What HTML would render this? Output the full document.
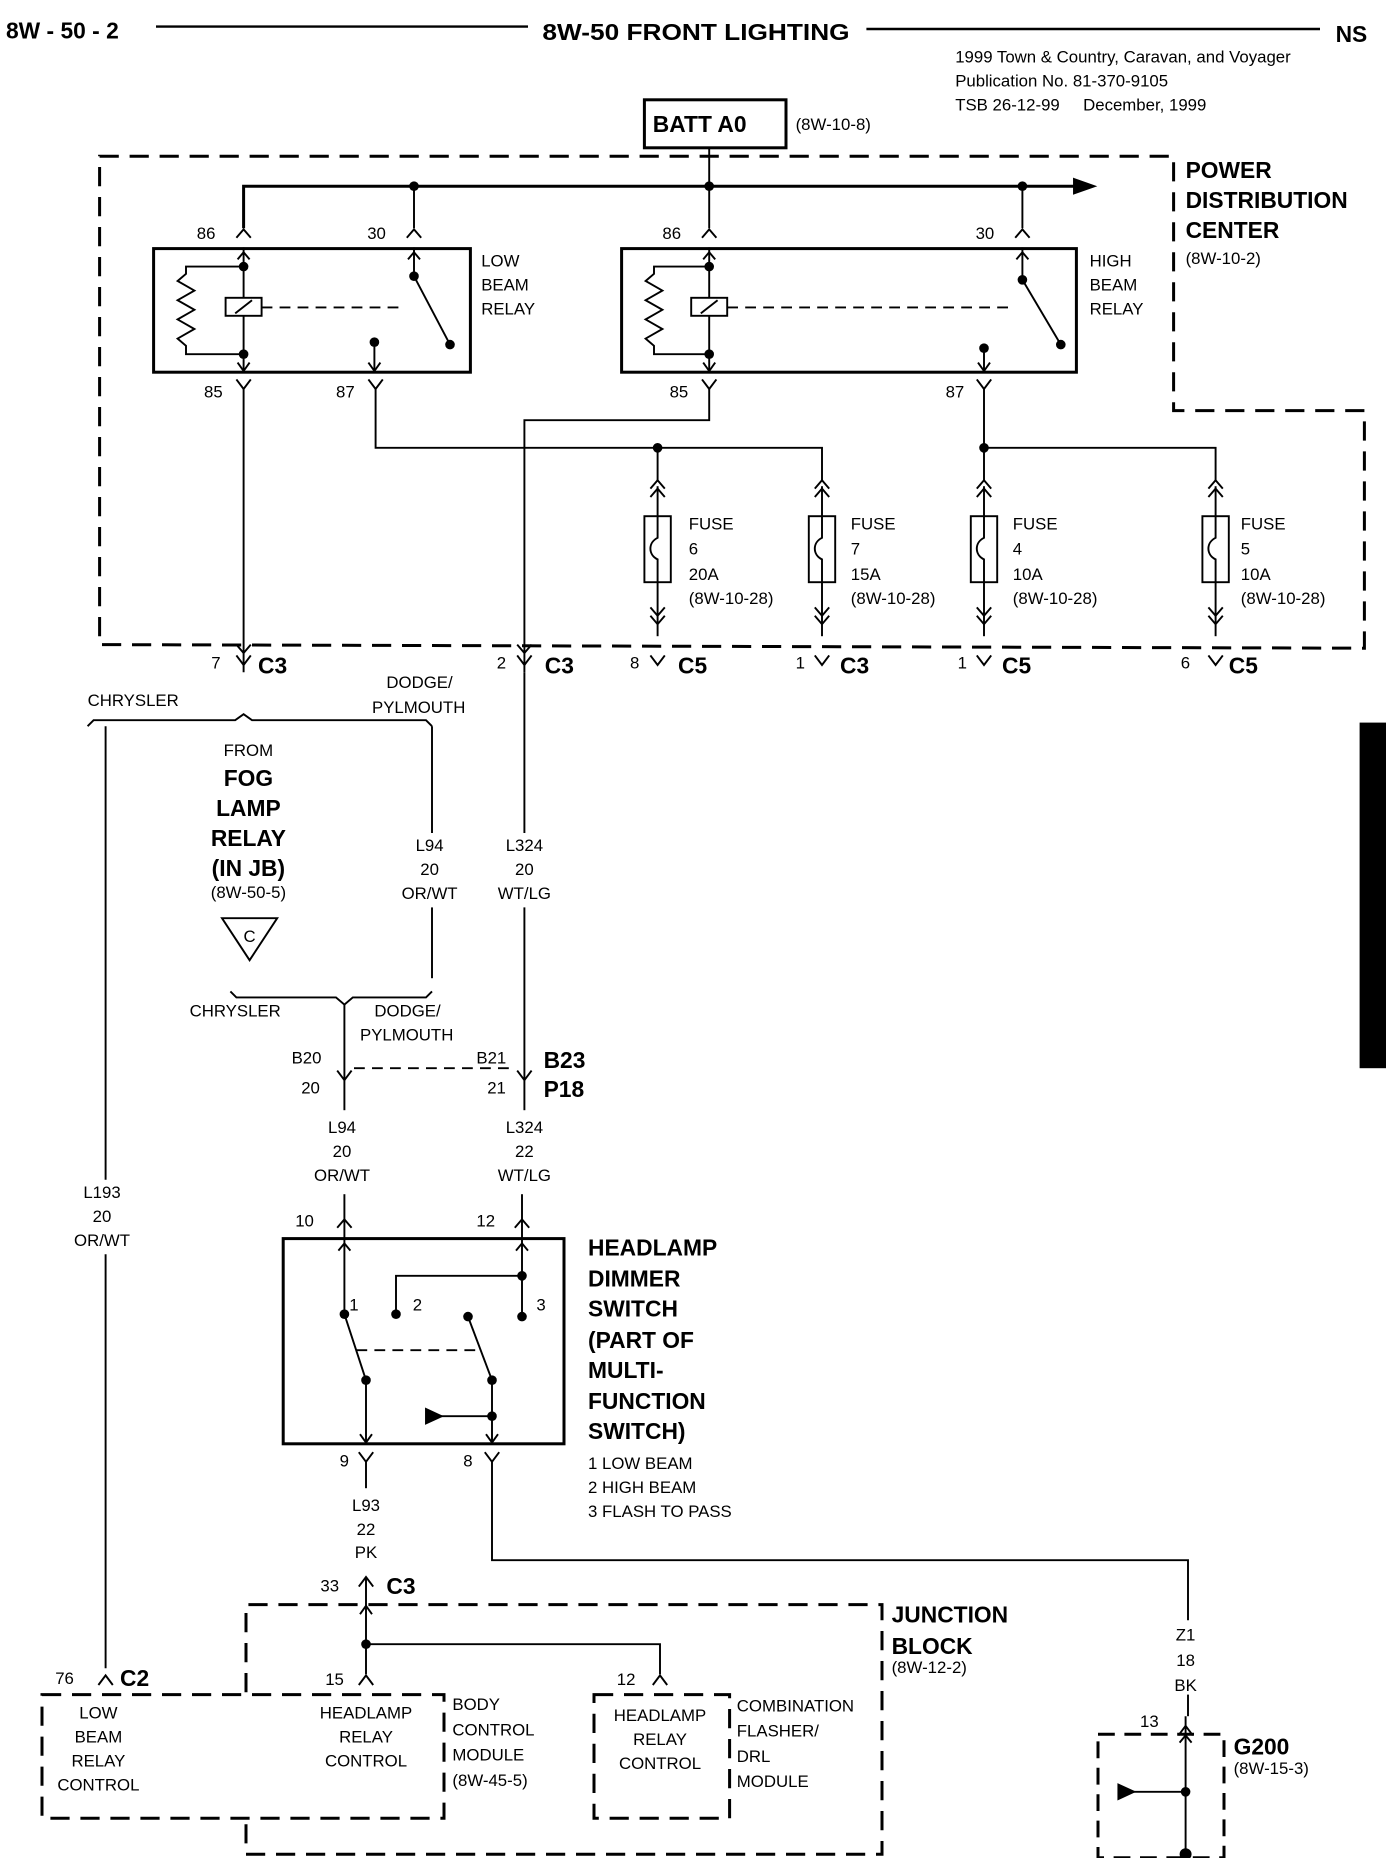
<!DOCTYPE html>
<html><head><meta charset="utf-8"><style>
html,body{margin:0;padding:0;background:#fff}
svg{display:block}
text{font-family:"Liberation Sans",sans-serif;fill:#000}
.s{font-size:14px}
.b{font-size:19px;font-weight:bold}
</style></head><body>
<svg width="1392" height="1858" viewBox="0 0 1160 1548" xmlns="http://www.w3.org/2000/svg">
<g stroke="#000" fill="none" stroke-width="1.6">
<line x1="130" y1="22" x2="440" y2="22" stroke-width="2"/>
<line x1="722" y1="24" x2="1100" y2="24" stroke-width="2"/>
<rect x="537" y="83" width="118" height="40" stroke-width="2.5"/>
<path d="M83 130 L978 130 L978 342 L1137 342 L1137 540 L83 537 Z" stroke-width="2.5" stroke-dasharray="16 9"/>
<line x1="591" y1="123" x2="591" y2="190"/>
<path d="M203 190 L203 155 L895 155" stroke-width="2.5"/>
<path d="M895 149 L912 155 L895 161 Z" fill="#000"/>
<line x1="345" y1="155" x2="345" y2="190"/>
<line x1="852" y1="155" x2="852" y2="190"/>
<rect x="128" y="207" width="264" height="103" stroke-width="2.5"/>
<rect x="518" y="207" width="379" height="103" stroke-width="2.5"/>
<path d="M197 198 L203 191 L209 198 M339 198 L345 191 L351 198 M585 198 L591 191 L597 198 M846 198 L852 191 L858 198"/>
<line x1="203" y1="206" x2="203" y2="310"/>
<path d="M198 216 L203 210 L208 216"/>
<path d="M203 222 L155 222 L155 228 L148 234 L162 242 L148 250 L162 258 L148 266 L162 274 L148 282 L155 288 L155 295 L203 295"/>
<rect x="188" y="248" width="30" height="15" fill="#fff"/>
<line x1="196" y1="261" x2="210" y2="250"/>
<line x1="218" y1="256" x2="336" y2="256" stroke-dasharray="9 6"/>
<line x1="345" y1="206" x2="345" y2="230"/>
<path d="M340 216 L345 210 L350 216"/>
<line x1="345" y1="230" x2="375" y2="287"/>
<line x1="312" y1="285" x2="312" y2="310"/>
<path d="M307 302 L312 309 L317 302"/>
<path d="M198 302 L203 309 L208 302"/>
<line x1="591" y1="206" x2="591" y2="310"/>
<path d="M586 216 L591 210 L596 216"/>
<path d="M591 222 L545 222 L545 228 L538 234 L552 242 L538 250 L552 258 L538 266 L552 274 L538 282 L545 288 L545 295 L591 295"/>
<rect x="576" y="248" width="30" height="15" fill="#fff"/>
<line x1="584" y1="261" x2="598" y2="250"/>
<line x1="606" y1="256" x2="845" y2="256" stroke-dasharray="9 6"/>
<line x1="852" y1="206" x2="852" y2="233"/>
<path d="M847 216 L852 210 L857 216"/>
<line x1="852" y1="233" x2="884" y2="287"/>
<line x1="820" y1="288" x2="820" y2="310"/>
<path d="M815 302 L820 309 L825 302"/>
<path d="M586 302 L591 309 L596 302"/>
<path d="M197 316 L203 324 L209 316 M307 316 L313 324 L319 316 M585 316 L591 324 L597 316 M814 316 L820 324 L826 316"/>
<line x1="203" y1="324" x2="203" y2="560"/>
<path d="M313 324 L313 373 L685 373 L685 400"/>
<path d="M591 324 L591 350 L437 350 L437 560"/>
<path d="M820 324 L820 373 L1013 373 L1013 400"/>
<line x1="820" y1="373" x2="820" y2="400"/>
<line x1="548" y1="373" x2="548" y2="400"/>
<g id="fuse">
<path d="M542 407 L548 400 L554 407 M542 414 L548 407 L554 414"/>
<line x1="548" y1="405" x2="548" y2="430"/>
<rect x="537" y="430" width="22" height="55"/>
<path d="M548 430 L548 448 C540 452 540 462 548 466 L548 485"/>
<line x1="548" y1="485" x2="548" y2="530"/>
<path d="M542 506 L548 513 L554 506 M542 513 L548 520 L554 513"/>
</g>
<use href="#fuse" x="137"/>
<use href="#fuse" x="272"/>
<use href="#fuse" x="465"/>
<path d="M197 537 L203 544 L209 537 M431 537 L437 544 L443 537"/>
<path d="M197 546 L203 554 L209 546 M431 546 L437 554 L443 546 M542 546 L548 554 L554 546 M679 546 L685 554 L691 546 M814 546 L820 554 L826 546 M1007 546 L1013 554 L1019 546"/>
<path d="M73 605 L78 600 L196 600 L203 595 L210 600 L355 600 L360 605"/>
<line x1="88" y1="605" x2="88" y2="983"/>
<line x1="88" y1="1045" x2="88" y2="1390"/>
<line x1="360" y1="605" x2="360" y2="694"/>
<line x1="360" y1="756" x2="360" y2="815"/>
<path d="M185 765 L231 765 L208 800 Z"/>
<path d="M192 826 L197 831 L280 831 L287 837 L294 831 L355 831 L360 826"/>
<line x1="287" y1="837" x2="287" y2="900"/>
<line x1="437" y1="560" x2="437" y2="694"/>
<line x1="437" y1="756" x2="437" y2="900"/>
<path d="M281 892 L287 900 L293 892 M431 892 L437 900 L443 892"/>
<line x1="295" y1="890" x2="430" y2="890" stroke-dasharray="9 6"/>
<line x1="287" y1="900" x2="287" y2="925"/>
<line x1="437" y1="900" x2="437" y2="925"/>
<line x1="287" y1="995" x2="287" y2="1032"/>
<line x1="435" y1="995" x2="435" y2="1032"/>
<path d="M281 1023 L287 1016 L293 1023 M429 1023 L435 1016 L441 1023"/>
<rect x="236" y="1032" width="234" height="171" stroke-width="2.5"/>
<line x1="287" y1="1032" x2="287" y2="1095"/>
<path d="M282 1042 L287 1036 L292 1042 M430 1042 L435 1036 L440 1042"/>
<line x1="435" y1="1032" x2="435" y2="1097"/>
<path d="M330 1095 L330 1063 L435 1063"/>
<line x1="287" y1="1095" x2="305" y2="1150"/>
<line x1="390" y1="1097" x2="410" y2="1150"/>
<line x1="297" y1="1125" x2="400" y2="1125" stroke-dasharray="9 6"/>
<line x1="305" y1="1150" x2="305" y2="1203"/>
<line x1="410" y1="1150" x2="410" y2="1203"/>
<path d="M300 1195 L305 1202 L310 1195 M405 1195 L410 1202 L415 1195"/>
<line x1="365" y1="1180" x2="410" y2="1180"/>
<path d="M355 1174 L368 1180 L355 1186 Z" fill="#000"/>
<path d="M299 1210 L305 1218 L311 1210 M404 1210 L410 1218 L416 1210"/>
<line x1="305" y1="1218" x2="305" y2="1240"/>
<path d="M410 1218 L410 1300 L990 1300 L990 1350"/>
<line x1="990" y1="1412" x2="990" y2="1430"/>
<line x1="305" y1="1315" x2="305" y2="1395"/>
<path d="M299 1322 L305 1314 L311 1322"/>
<path d="M205 1410 L205 1337 L735 1337 L735 1545 L205 1545 L205 1515" stroke-width="2.5" stroke-dasharray="16 9"/>
<path d="M305 1370 L550 1370 L550 1395"/>
<path d="M300 1345 L305 1338 L310 1345"/>
<path d="M299 1404 L305 1396 L311 1404 M544 1404 L550 1396 L556 1404 M82 1404 L88 1396 L94 1404"/>
<rect x="35" y="1412" width="335" height="103" stroke-width="2.5" stroke-dasharray="16 9"/>
<rect x="495" y="1412" width="113" height="103" stroke-width="2.5" stroke-dasharray="16 9"/>
<path d="M982 1446 L988 1438 L994 1446"/>
<line x1="988" y1="1430" x2="988" y2="1545"/>
<path d="M983 1452 L988 1446 L993 1452"/>
<rect x="915" y="1445" width="105" height="103" stroke-width="2.5" stroke-dasharray="14 8"/>
<line x1="940" y1="1493" x2="988" y2="1493"/>
<path d="M932 1487 L945 1493 L932 1499 Z" fill="#000"/>
</g>
<g fill="#000">
<circle cx="345" cy="155" r="4"/><circle cx="591" cy="155" r="4"/><circle cx="852" cy="155" r="4"/>
<circle cx="203" cy="222" r="4"/><circle cx="203" cy="295" r="4"/><circle cx="345" cy="230" r="4"/><circle cx="375" cy="287" r="4"/><circle cx="312" cy="285" r="4"/>
<circle cx="591" cy="222" r="4"/><circle cx="591" cy="295" r="4"/><circle cx="852" cy="233" r="4"/><circle cx="884" cy="287" r="4"/><circle cx="820" cy="290" r="4"/>
<circle cx="548" cy="373" r="4"/><circle cx="820" cy="373" r="4"/>
<circle cx="287" cy="1095" r="4"/><circle cx="330" cy="1095" r="4"/><circle cx="435" cy="1063" r="4"/><circle cx="435" cy="1097" r="4"/><circle cx="390" cy="1097" r="4"/>
<circle cx="305" cy="1150" r="4"/><circle cx="410" cy="1150" r="4"/><circle cx="410" cy="1180" r="4"/>
<circle cx="305" cy="1370" r="4"/><circle cx="988" cy="1493" r="4"/><circle cx="988" cy="1545" r="5"/>
<rect x="1133" y="602" width="22" height="288"/>
</g>
<text x="5" y="32" class="b" font-size="22">8W - 50 - 2</text>
<text x="452" y="33" class="b" font-size="24" textLength="256" lengthAdjust="spacingAndGlyphs">8W-50 FRONT LIGHTING</text>
<text x="1113" y="35" class="b" font-size="24">NS</text>
<text x="796" y="52" class="s">1999 Town &amp; Country, Caravan, and Voyager</text>
<text x="796" y="72" class="s">Publication No. 81-370-9105</text>
<text x="796" y="92" class="s">TSB 26-12-99 &#160;&#160;&#160;&#160;December, 1999</text>
<text x="544" y="110" class="b">BATT A0</text>
<text x="663" y="108" class="s">(8W-10-8)</text>
<text x="988" y="148" class="b">POWER</text>
<text x="988" y="173" class="b">DISTRIBUTION</text>
<text x="988" y="198" class="b">CENTER</text>
<text x="988" y="220" class="s">(8W-10-2)</text>
<g class="s">
<text x="164" y="199">86</text><text x="306" y="199">30</text><text x="552" y="199">86</text><text x="813" y="199">30</text>
<text x="401" y="222">LOW</text><text x="401" y="242">BEAM</text><text x="401" y="262">RELAY</text>
<text x="908" y="222">HIGH</text><text x="908" y="242">BEAM</text><text x="908" y="262">RELAY</text>
<text x="170" y="331">85</text><text x="280" y="331">87</text><text x="558" y="331">85</text><text x="788" y="331">87</text>
<text x="574" y="441">FUSE</text><text x="574" y="462">6</text><text x="574" y="483">20A</text><text x="574" y="503">(8W-10-28)</text>
<text x="709" y="441">FUSE</text><text x="709" y="462">7</text><text x="709" y="483">15A</text><text x="709" y="503">(8W-10-28)</text>
<text x="844" y="441">FUSE</text><text x="844" y="462">4</text><text x="844" y="483">10A</text><text x="844" y="503">(8W-10-28)</text>
<text x="1034" y="441">FUSE</text><text x="1034" y="462">5</text><text x="1034" y="483">10A</text><text x="1034" y="503">(8W-10-28)</text>
<text x="176" y="557">7</text><text x="414" y="557">2</text><text x="525" y="557">8</text><text x="663" y="557">1</text><text x="798" y="557">1</text><text x="984" y="557">6</text>
<text x="73" y="588">CHRYSLER</text>
<text x="322" y="573">DODGE/</text><text x="310" y="594">PYLMOUTH</text>
<text x="207" y="630" text-anchor="middle">FROM</text>
<text x="207" y="748" text-anchor="middle">(8W-50-5)</text>
<text x="358" y="709" text-anchor="middle">L94</text><text x="358" y="729" text-anchor="middle">20</text><text x="358" y="749" text-anchor="middle">OR/WT</text>
<text x="437" y="709" text-anchor="middle">L324</text><text x="437" y="729" text-anchor="middle">20</text><text x="437" y="749" text-anchor="middle">WT/LG</text>
<text x="208" y="785" text-anchor="middle">C</text>
<text x="158" y="847">CHRYSLER</text>
<text x="312" y="847">DODGE/</text><text x="300" y="867">PYLMOUTH</text>
<text x="243" y="886">B20</text><text x="251" y="911">20</text>
<text x="397" y="886">B21</text><text x="406" y="911">21</text>
<text x="285" y="944" text-anchor="middle">L94</text><text x="285" y="964" text-anchor="middle">20</text><text x="285" y="984" text-anchor="middle">OR/WT</text>
<text x="437" y="944" text-anchor="middle">L324</text><text x="437" y="964" text-anchor="middle">22</text><text x="437" y="984" text-anchor="middle">WT/LG</text>
<text x="85" y="998" text-anchor="middle">L193</text><text x="85" y="1018" text-anchor="middle">20</text><text x="85" y="1038" text-anchor="middle">OR/WT</text>
<text x="246" y="1022">10</text><text x="397" y="1022">12</text>
<text x="291" y="1092">1</text><text x="344" y="1092">2</text><text x="447" y="1092">3</text>
<text x="283" y="1222">9</text><text x="386" y="1222">8</text>
<text x="490" y="1224">1 LOW BEAM</text><text x="490" y="1244">2 HIGH BEAM</text><text x="490" y="1264">3 FLASH TO PASS</text>
<text x="305" y="1259" text-anchor="middle">L93</text><text x="305" y="1279" text-anchor="middle">22</text><text x="305" y="1298" text-anchor="middle">PK</text>
<text x="267" y="1326">33</text>
<text x="743" y="1394">(8W-12-2)</text>
<text x="46" y="1403">76</text><text x="271" y="1404">15</text><text x="514" y="1404">12</text>
<text x="82" y="1432" text-anchor="middle">LOW</text><text x="82" y="1452" text-anchor="middle">BEAM</text><text x="82" y="1472" text-anchor="middle">RELAY</text><text x="82" y="1492" text-anchor="middle">CONTROL</text>
<text x="305" y="1432" text-anchor="middle">HEADLAMP</text><text x="305" y="1452" text-anchor="middle">RELAY</text><text x="305" y="1472" text-anchor="middle">CONTROL</text>
<text x="377" y="1425">BODY</text><text x="377" y="1446">CONTROL</text><text x="377" y="1467">MODULE</text><text x="377" y="1488">(8W-45-5)</text>
<text x="550" y="1434" text-anchor="middle">HEADLAMP</text><text x="550" y="1454" text-anchor="middle">RELAY</text><text x="550" y="1474" text-anchor="middle">CONTROL</text>
<text x="614" y="1426">COMBINATION</text><text x="614" y="1447">FLASHER/</text><text x="614" y="1468">DRL</text><text x="614" y="1489">MODULE</text>
<text x="988" y="1367" text-anchor="middle">Z1</text><text x="988" y="1388" text-anchor="middle">18</text><text x="988" y="1409" text-anchor="middle">BK</text>
<text x="950" y="1439">13</text>
<text x="1028" y="1478">(8W-15-3)</text>
</g>
<g class="b">
<text x="215" y="561">C3</text><text x="454" y="561">C3</text><text x="565" y="561">C5</text><text x="700" y="561">C3</text><text x="835" y="561">C5</text><text x="1024" y="561">C5</text>
<text x="207" y="655" text-anchor="middle">FOG</text><text x="207" y="680" text-anchor="middle">LAMP</text><text x="207" y="705" text-anchor="middle">RELAY</text><text x="207" y="730" text-anchor="middle">(IN JB)</text>
<text x="453" y="890">B23</text><text x="453" y="914">P18</text>
<text x="490" y="1046">HEADLAMP</text><text x="490" y="1072">DIMMER</text><text x="490" y="1097">SWITCH</text><text x="490" y="1123">(PART OF</text><text x="490" y="1148">MULTI-</text><text x="490" y="1174">FUNCTION</text><text x="490" y="1199">SWITCH)</text>
<text x="322" y="1328">C3</text>
<text x="743" y="1352">JUNCTION</text><text x="743" y="1378">BLOCK</text>
<text x="100" y="1405">C2</text>
<text x="1028" y="1462">G200</text>
</g>
</svg>
</body></html>
